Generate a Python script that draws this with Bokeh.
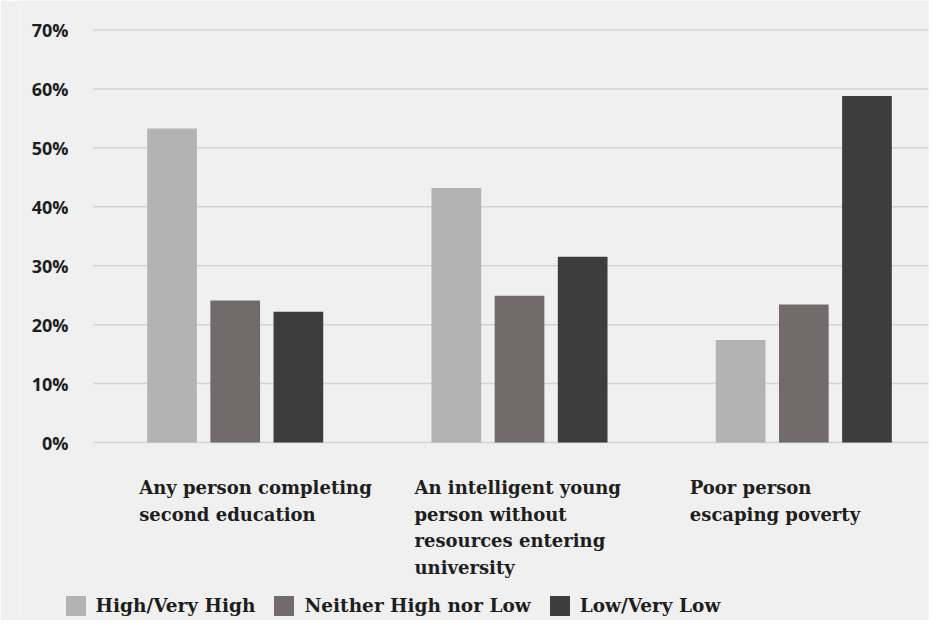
from bokeh.plotting import figure
from bokeh.models import Range1d, FixedTicker, Legend, LegendItem, ColumnDataSource
from bokeh.transform import dodge
from bokeh.core.properties import value
from bokeh.embed import file_html
from bokeh.resources import INLINE

# ---------------- data ----------------
categories = [
    "Any person completing\nsecond education",
    "An intelligent young\nperson without\nresources entering\nuniversity",
    "Poor person\nescaping poverty",
]
series_names = ["High/Very High", "Neither High nor Low", "Low/Very Low"]
high = [53.3, 43.2, 17.4]
neither = [24.1, 24.9, 23.4]
low = [22.2, 31.5, 58.8]
y_ticks = [0, 10, 20, 30, 40, 50, 60, 70]
y_tick_labels = ["0%", "10%", "20%", "30%", "40%", "50%", "60%", "70%"]

# ---------------- style ----------------
BG = "#f0f0f0"
BAR_COLORS = ["#b3b3b3", "#716b6c", "#3d3d3d"]
GRID = "#d3d3d3"
TEXT = "#1e1e1e"
SERIF = "DejaVu Serif"

X_START, X_END = -0.7552, 2.4386
GRID_X0 = -0.4984

p = figure(
    width=929, height=620,
    output_backend="svg", toolbar_location=None,
    x_range=Range1d(X_START, X_END),
    y_range=Range1d(-30.2, 75.0),
    x_axis_location=None,
    min_border_left=20, min_border_right=1, min_border_top=0, min_border_bottom=0,
    background_fill_color=BG, border_fill_color=BG, outline_line_color=None,
)
p.extra_x_ranges = {"labels": Range1d(-0.4312, 2.8671)}

# y axis: labels pulled to the right so they sit just left of the grid lines
p.yaxis.ticker = FixedTicker(ticks=y_ticks)
p.yaxis.major_label_overrides = {t: l for t, l in zip(y_ticks, y_tick_labels)}
p.yaxis.axis_line_color = None
p.yaxis.major_tick_line_color = None
p.yaxis.minor_tick_line_color = None
p.yaxis.major_tick_in = 0
p.yaxis.major_tick_out = 0
p.yaxis.major_label_standoff = -48
p.yaxis.major_label_text_font = "Open Sans"
p.yaxis.major_label_text_font_style = "bold"
p.yaxis.major_label_text_font_size = "18px"
p.yaxis.major_label_text_color = TEXT

# grid lines (as segments so they start right of the tick labels)
p.xgrid.visible = False
p.ygrid.visible = False
p.segment(x0=[GRID_X0] * len(y_ticks), x1=[X_END] * len(y_ticks), y0=y_ticks, y1=y_ticks,
          line_color=GRID, line_width=1.5)

# bars
src = ColumnDataSource(dict(x=list(range(len(categories))), high=high, neither=neither, low=low))
offsets = [-0.2222, 0.0, 0.2222]
fields = ["high", "neither", "low"]
renderers = []
for f, off, c in zip(fields, offsets, BAR_COLORS):
    r = p.vbar(x=dodge("x", off), top=f, bottom=0, width=0.1748, source=src,
               fill_color=c, line_color=None)
    renderers.append(r)

# category labels (left aligned, multi-line)
for i, cat in enumerate(categories):
    for j, line in enumerate(cat.split("\n")):
        p.text(x=[i], y=[0], text=[line], x_range_name="labels",
               y_offset=45 + 26.5 * j,
               text_font=value(SERIF), text_font_style="bold",
               text_font_size="18px", text_color=TEXT,
               text_align="left", text_baseline="alphabetic")

# legend
legend = Legend(
    items=[LegendItem(label=n, renderers=[r]) for n, r in zip(series_names, renderers)],
    orientation="horizontal", location=(42.5, 2.5),
    glyph_width=25, glyph_height=25, label_standoff=8, spacing=16,
    padding=0, margin=0, border_line_color=None, background_fill_alpha=0,
    label_text_font=SERIF, label_text_font_style="bold",
    label_text_font_size="18.5px", label_text_color=TEXT,
)
p.add_layout(legend)

open("out.html", "w").write(file_html(p, INLINE))
